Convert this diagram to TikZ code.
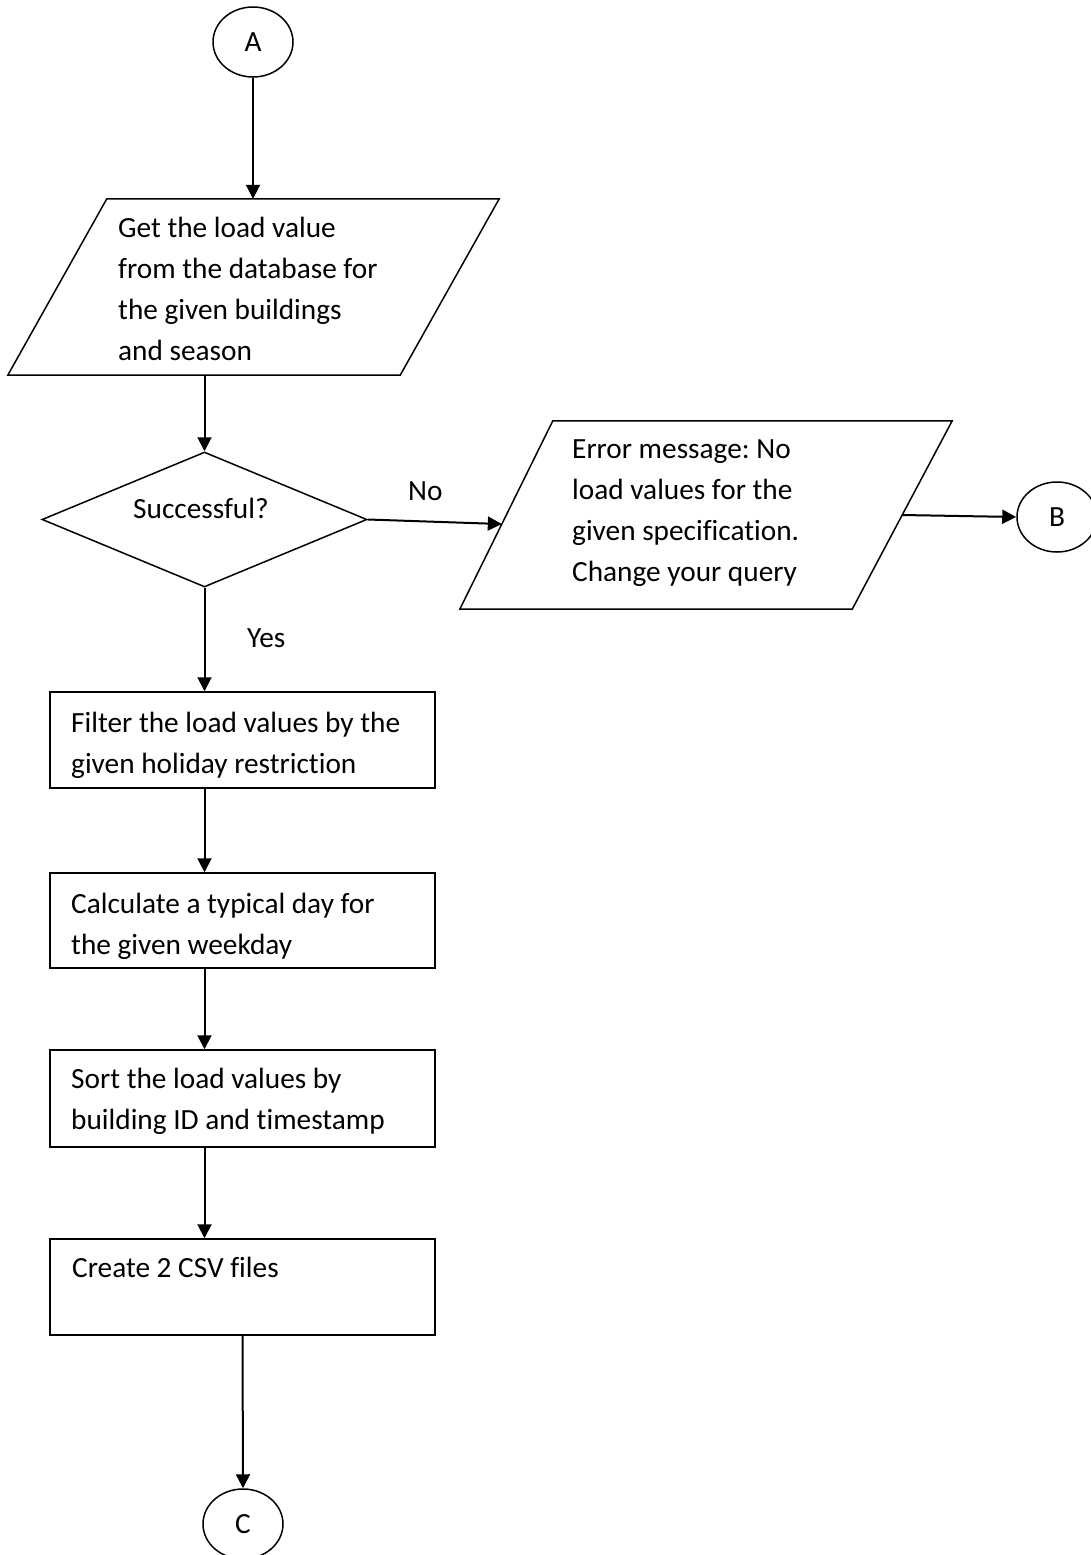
\documentclass[tikz,border=0pt]{standalone}
\usepackage{fontspec}
\setmainfont{Carlito}[Ligatures=NoCommon]
\usetikzlibrary{shapes.geometric,arrows.meta,calc}
\frenchspacing
% left-aligned block of lines whose baseline is the first line's baseline
\newcommand{\txtlines}[1]{\vtop{\halign{##\hfil\cr#1\crcr}}}
\begin{document}
\begin{tikzpicture}[x=1pt,y=-1pt,
  outline/.style={draw=black,line width=1.5pt},
  flow/.style={draw=black,line width=2pt,-{Triangle[length=14pt,width=14pt]}},
  txt/.style={font=\fontsize{29.3}{41.2}\selectfont,inner sep=0pt,anchor=base west},
  connector/.style={ellipse,outline,minimum width=80pt,minimum height=70pt,inner sep=0pt,
                    font=\fontsize{29.3}{35}\selectfont},
  frame/.style={rectangle,inner sep=0pt,minimum width=#1},
  procbox/.style={rectangle,outline,inner sep=0pt,minimum width=385pt},
  decision/.style={diamond,outline,inner sep=0pt,minimum width=325pt,minimum height=135pt}]
\useasboundingbox[fill=white] (0,0) rectangle (1090,1555);

% off-page connectors
\node[connector] (A) at (253,42) {A};
\node[connector] (B) at (1057,517) {B};
\node[connector] (C) at (243,1524) {C};

% input: query the database
\node[frame=491pt,minimum height=176pt] (get) at (253.5,287) {};
\draw[outline] ([xshift=99pt]get.north west) -- (get.north east)
  -- ([xshift=-99pt]get.south east) -- (get.south west) -- cycle;
\node[txt] (getText) at (118,237) {\txtlines{Get the load value\cr
  from the database for\cr the given buildings\cr and season}};

% decision
\node[decision] (ok) at (204.5,519.5) {};
\node[txt] (okText) at (133,518) {Successful?};

% output: error message
\node[frame=492pt,minimum height=188pt] (err) at (706,515) {};
\draw[outline] ([xshift=93pt]err.north west) -- (err.north east)
  -- ([xshift=-100pt]err.south east) -- (err.south west) -- cycle;
\node[txt] (errText) at (572,458) {\txtlines{Error message: No\cr
  load values for the\cr given specification.\cr Change your query}};
\coordinate (errIn) at ($(err.south west)!0.452!([xshift=93pt]err.north west)$);
\coordinate (errOut) at ($([xshift=-100pt]err.south east)!0.5!(err.north east)$);

% process steps
\node[procbox,minimum height=96pt] (filter) at (242.5,740) {};
\node[txt] (filterText) at (71,732) {\txtlines{Filter the load values by the\cr
  given holiday restriction}};
\node[procbox,minimum height=95pt] (typical) at (242.5,920.5) {};
\node[txt] (typicalText) at (71,913) {\txtlines{Calculate a typical day for\cr
  the given weekday}};
\node[procbox,minimum height=97pt] (sort) at (242.5,1098.5) {};
\node[txt] (sortText) at (71,1088) {\txtlines{Sort the load values by\cr
  building ID and timestamp}};
\node[procbox,minimum height=96pt] (csv) at (242.5,1287) {};
\node[txt] (csvText) at (72,1277) {Create 2 CSV files};

% branch labels
\node[txt] (noText) at (408,500) {No};
\node[txt] (yesText) at (247,647) {Yes};

% flow
\draw[flow] (A) -- (A |- get.north);
\draw[flow] (get.south -| ok.north) -- (ok.north);
\draw[flow] (ok.east) -- (errIn);
\draw[flow] (errOut) -- (B.west);
\draw[flow] (ok.south) -- (ok.south |- filter.north);
\draw[flow] (filter.south -| ok.south) -- (typical.north -| ok.south);
\draw[flow] (typical.south -| ok.south) -- (sort.north -| ok.south);
\draw[flow] (sort.south -| ok.south) -- (csv.north -| ok.south);
\draw[flow] (csv.south) -- (C.north);
\end{tikzpicture}
\end{document}
